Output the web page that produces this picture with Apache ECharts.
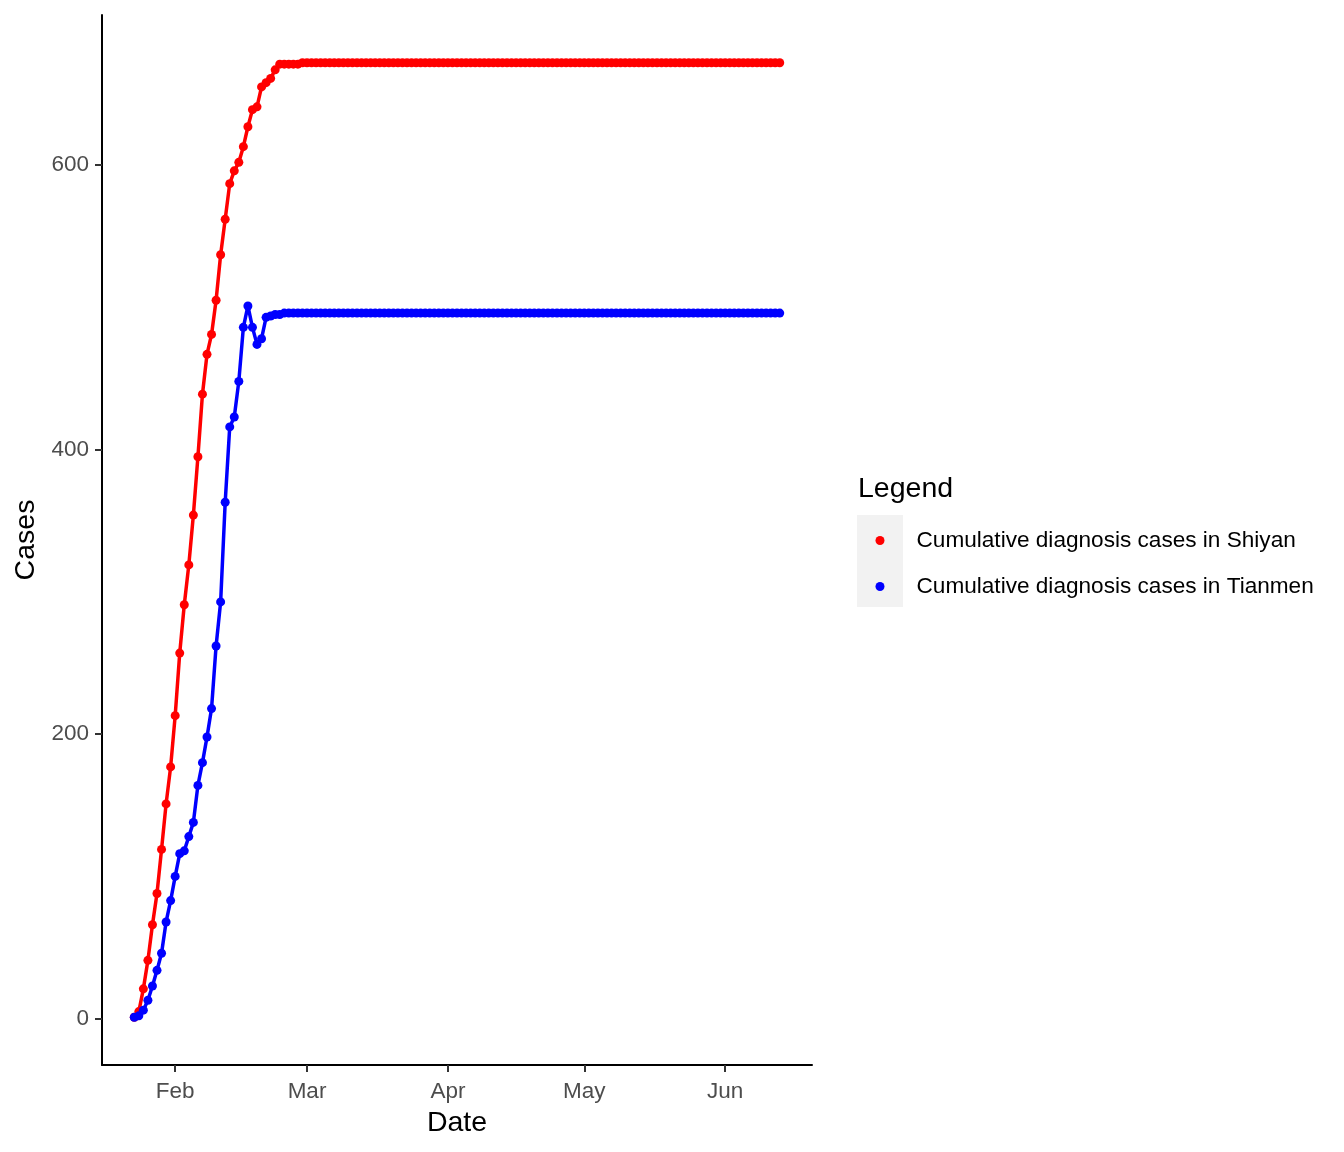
<!DOCTYPE html>
<html>
<head>
<meta charset="utf-8">
<script src="https://cdn.jsdelivr.net/npm/echarts@6/dist/echarts.min.js"></script>
<style>
html,body{margin:0;padding:0;background:#fff;}
#chart{width:1344px;height:1152px;}
</style>
</head>
<body>
<div id="chart"></div>
<script>
// ---- data ----
const startDate = '2020-01-23'; // first day of the daily series
const shiyan = [
  1, 5, 21, 41, 66, 88, 119, 151, 177, 213,
  257, 291, 319, 354, 395, 439, 467, 481, 505, 537,
  562, 587, 596, 602, 613, 627, 639, 641, 655, 658,
  661, 667, 671, 671, 671, 671, 671,
  672, 672, 672, 672, 672, 672, 672, 672, 672, 672,
  672, 672, 672, 672, 672, 672, 672, 672, 672, 672,
  672, 672, 672, 672, 672, 672, 672, 672, 672, 672,
  672, 672, 672, 672, 672, 672, 672, 672, 672, 672,
  672, 672, 672, 672, 672, 672, 672, 672, 672, 672,
  672, 672, 672, 672, 672, 672, 672, 672, 672, 672,
  672, 672, 672, 672, 672, 672, 672, 672, 672, 672,
  672, 672, 672, 672, 672, 672, 672, 672, 672, 672,
  672, 672, 672, 672, 672, 672, 672, 672, 672, 672,
  672, 672, 672, 672, 672, 672, 672, 672, 672, 672,
  672, 672, 672, 672, 672, 672
];
const tianmen = [
  1, 2, 6, 13, 23, 34, 46, 68, 83, 100,
  116, 118, 128, 138, 164, 180, 198, 218, 262, 293,
  363, 416, 423, 448, 486, 501, 486, 474, 478, 493,
  494, 495, 495, 496,
  496, 496, 496, 496, 496, 496, 496, 496, 496, 496,
  496, 496, 496, 496, 496, 496, 496, 496, 496, 496,
  496, 496, 496, 496, 496, 496, 496, 496, 496, 496,
  496, 496, 496, 496, 496, 496, 496, 496, 496, 496,
  496, 496, 496, 496, 496, 496, 496, 496, 496, 496,
  496, 496, 496, 496, 496, 496, 496, 496, 496, 496,
  496, 496, 496, 496, 496, 496, 496, 496, 496, 496,
  496, 496, 496, 496, 496, 496, 496, 496, 496, 496,
  496, 496, 496, 496, 496, 496, 496, 496, 496, 496,
  496, 496, 496, 496, 496, 496, 496, 496, 496, 496,
  496, 496, 496, 496, 496, 496, 496, 496, 496
];
const seriesNames = ['Cumulative diagnosis cases in Shiyan', 'Cumulative diagnosis cases in Tianmen'];
const monthTickDates = ['2020-02-01', '2020-03-01', '2020-04-01', '2020-05-01', '2020-06-01'];
const monthTickLabels = ['Feb', 'Mar', 'Apr', 'May', 'Jun'];
const yTicks = [0, 200, 400, 600];

// ---- build ----
const DAY = 86400000;
const parseUTC = s => { const p = s.split('-').map(Number); return Date.UTC(p[0], p[1] - 1, p[2]); };
const t0 = parseUTC(startDate);
const dates = shiyan.map((_, i) => t0 + i * DAY);
const monthTicks = monthTickDates.map(parseUTC);

const allVals = shiyan.concat(tianmen);
const vMin = Math.min.apply(null, allVals), vMax = Math.max.apply(null, allVals);
const yPad = (vMax - vMin) * 0.05;
const xSpan = dates[dates.length - 1] - dates[0];
const xPad = xSpan * 0.05;

const FONT = 'Liberation Sans, Arial, sans-serif';
const chart = echarts.init(document.getElementById('chart'), null, {renderer: 'canvas'});
chart.setOption({
  animation: false,
  backgroundColor: '#ffffff',
  grid: {left: 102, right: 532, top: 15, bottom: 87, containLabel: false},
  xAxis: {
    type: 'value',
    scale: true,
    min: dates[0] - xPad,
    max: dates[dates.length - 1] + xPad,
    name: 'Date',
    nameLocation: 'middle',
    nameGap: 44,
    nameTextStyle: {fontSize: 28.5, color: '#000', fontFamily: FONT},
    axisLine: {show: true, onZero: false, lineStyle: {color: '#000', width: 2}},
    axisTick: {show: true, customValues: monthTicks, length: 7, lineStyle: {color: '#333', width: 2}},
    axisLabel: {
      customValues: monthTicks,
      fontSize: 22.5, color: '#4D4D4D', fontFamily: FONT, margin: 15,
      formatter: function (v) {
        let best = 0, bd = Infinity;
        monthTicks.forEach((m, k) => { const d = Math.abs(m - v); if (d < bd) { bd = d; best = k; } });
        return monthTickLabels[best];
      }
    },
    splitLine: {show: false}
  },
  yAxis: {
    type: 'value',
    min: vMin - yPad,
    max: vMax + yPad,
    name: 'Cases',
    nameLocation: 'middle',
    nameRotate: 90,
    nameGap: 57,
    nameTextStyle: {fontSize: 28.5, color: '#000', fontFamily: FONT},
    axisLine: {show: true, onZero: false, lineStyle: {color: '#000', width: 2}},
    axisTick: {show: true, customValues: yTicks, length: 7, lineStyle: {color: '#333', width: 2}},
    axisLabel: {customValues: yTicks, fontSize: 22.5, color: '#4D4D4D', fontFamily: FONT, margin: 13},
    splitLine: {show: false}
  },
  legend: {
    orient: 'vertical',
    left: 875.5,
    top: 527,
    padding: 0,
    icon: 'circle',
    itemWidth: 9,
    itemHeight: 9,
    itemGap: 19,
    selectedMode: false,
    textStyle: {fontSize: 22.6, color: '#000', fontFamily: FONT, lineHeight: 27, padding: [0, 0, 0, 27]},
    data: seriesNames
  },
  graphic: [
    {type: 'rect', z: -10, silent: true, shape: {x: 857, y: 515, width: 46, height: 92}, style: {fill: '#F2F2F2'}},
    {type: 'text', left: 858, top: 475, silent: true, style: {text: 'Legend', fontSize: 28.5, fill: '#000', fontFamily: FONT}}
  ],
  series: [
    {
      name: seriesNames[0], type: 'line',
      data: dates.map((d, i) => [d, shiyan[i]]),
      symbol: 'circle', symbolSize: 9, showAllSymbol: true,
      lineStyle: {color: '#FF0000', width: 3.5},
      itemStyle: {color: '#FF0000'},
      z: 2
    },
    {
      name: seriesNames[1], type: 'line',
      data: dates.map((d, i) => [d, tianmen[i]]),
      symbol: 'circle', symbolSize: 9, showAllSymbol: true,
      lineStyle: {color: '#0000FF', width: 3.5},
      itemStyle: {color: '#0000FF'},
      z: 3
    }
  ]
});
</script>
</body>
</html>
